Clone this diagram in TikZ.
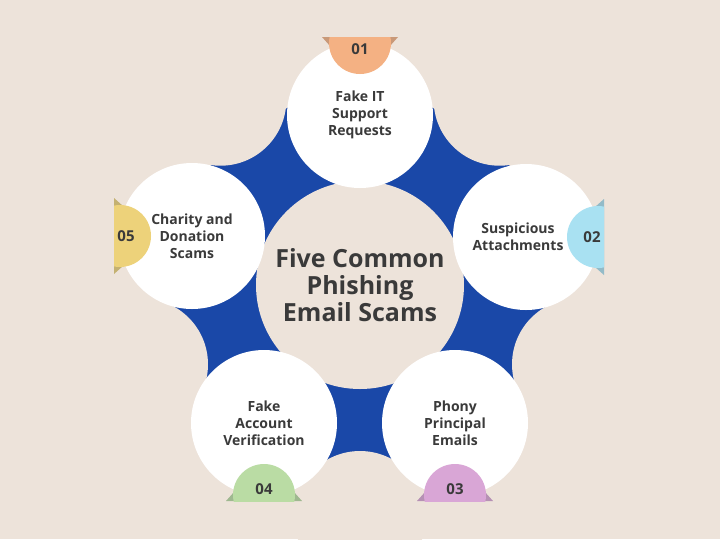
\documentclass[tikz,border=0pt]{standalone}
\usepackage{fontspec}
\setmainfont{Open Sans}
\usetikzlibrary{positioning,calc}
\definecolor{bg}{HTML}{EDE3DA}
\definecolor{ring}{HTML}{1A48A8}
\definecolor{ink}{HTML}{3A3A3A}
\definecolor{tabA}{HTML}{F4B183}
\definecolor{tabB}{HTML}{A9E1F2}
\definecolor{tabC}{HTML}{D9A6D6}
\definecolor{tabD}{HTML}{BADCA4}
\definecolor{tabE}{HTML}{EDD27A}
\begin{document}
\begin{tikzpicture}[x=1pt,y=-1pt,
  topic/.style={circle,fill=white,minimum size=146pt,inner sep=0pt,align=center,
    font=\fontsize{14}{17}\selectfont\bfseries,text=ink},
  number/.style={font=\fontsize{15}{16}\selectfont\bfseries,text=ink}]
  \fill[bg] (0,0) rectangle (720,539);
  \useasboundingbox (0,0) rectangle (720,539);
  \coordinate (O) at (360,285);
  % blue star between the circles
  \begin{scope}
    \clip (0,0) rectangle (720,539);
    \fill[ring] ($(O)+(-90:232)$) -- ($(O)+(-16:232)$) -- ($(O)+(55.5:232)$)
      -- ($(O)+(124.8:232)$) -- ($(O)+(196:232)$) -- cycle;
    \fill[bg] (O) circle (104);
    \foreach \a in {-53,20,90,160,-127}
      \fill[bg] ($(O)+(\a:232)$) circle (66);
  \end{scope}
  % tabs
  \foreach \x/\y/\d/\c in {360/115/-90/tabA,526/237/0/tabB,455/423/90/tabC,264/423/90/tabD,192/236/180/tabE}{
    \fill[\c!80!black!90] ($(\x,\y)+(\d:60)+(\d+90:22)$) -- ($(\x,\y)+(\d:78)+(\d+90:38)$)
      -- ($(\x,\y)+(\d:78)+(\d-90:38)$) -- ($(\x,\y)+(\d:60)+(\d-90:22)$) -- cycle;
  }
  \node[topic] (it)   at (360,115) {Fake IT\\Support\\Requests};
  \node[topic] (att)  at (526,237) {};
  \node[topic,fill=none] (attx) at (518,237) {Suspicious\\Attachments};
  \node[topic] (phon) at (455,423) {Phony\\Principal\\Emails};
  \node[topic] (acc)  at (264,423) {Fake\\Account\\Verification};
  \node[topic] (char) at (192,236) {Charity and\\Donation\\Scams};
  \foreach \x/\y/\d/\c/\n in {360/115/-90/tabA/01,526/237/0/tabB/02,455/423/90/tabC/03,264/423/90/tabD/04,192/236/180/tabE/05}{
    \begin{scope}
      \clip ($(\x,\y)+(\d:78)+(\d+90:40)$) -- ($(\x,\y)+(\d:78)+(\d-90:40)$)
        -- ($(\x,\y)+(\d:30)+(\d-90:40)$) -- ($(\x,\y)+(\d:30)+(\d+90:40)$) -- cycle;
      \fill[\c] ($(\x,\y)+(\d:72)$) circle (31);
    \end{scope}
    \node[number] at ($(\x,\y)+(\d:66)$) {\n};
  }
  \node[font=\fontsize{25}{27}\selectfont\bfseries,text=ink,align=center] (title) at (O) {Five Common\\Phishing\\Email Scams};
\end{tikzpicture}
\end{document}
